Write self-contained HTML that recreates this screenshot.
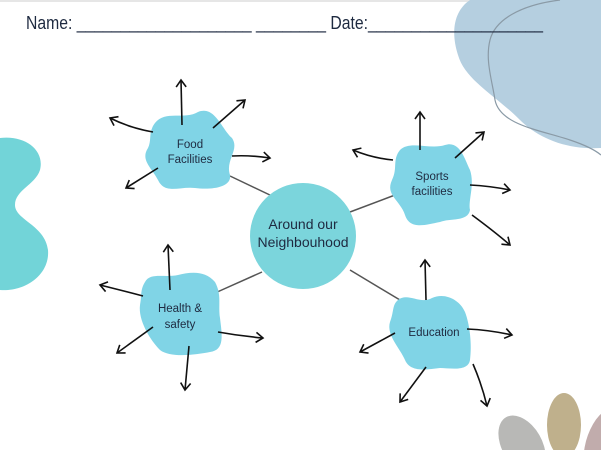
<!DOCTYPE html>
<html><head><style>
html,body{margin:0;padding:0;background:#fff;width:601px;height:450px;overflow:hidden}
svg{display:block}
text{font-family:"Liberation Sans",sans-serif;fill:#1e2a40}
</style></head><body>
<svg width="601" height="450" viewBox="0 0 601 450" xmlns="http://www.w3.org/2000/svg">
<defs>
<marker id="a" markerWidth="12" markerHeight="12" refX="9" refY="6" orient="auto" markerUnits="userSpaceOnUse">
<path d="M2,1 L9,6 L2,11" fill="none" stroke="#111" stroke-width="1.6"/>
</marker>
</defs>
<rect x="0" y="0" width="601" height="2" fill="#e6e6e6"/>
<path d="M470,0 L601,0 L601,148 C570,150 540,140 520,120 C495,95 465,80 458,55 C450,30 455,10 470,0Z" fill="#b5cfe0"/>
<path d="M560,0 C520,5 495,20 490,40 C485,60 492,80 495,100 C500,125 540,130 570,140 C585,145 595,150 601,155" fill="none" stroke="#8a9aa6" stroke-width="1.2"/>
<path d="M0,138 C25,135 45,150 40,170 C35,185 15,190 15,205 C15,220 45,225 48,250 C50,275 25,292 0,290Z" fill="#72d4d8"/>
<ellipse cx="522" cy="445" rx="20" ry="32" transform="rotate(-30 522 445)" fill="#b8b8b6"/>
<ellipse cx="564" cy="425" rx="17" ry="32" fill="#bfb08c"/>
<ellipse cx="601" cy="440" rx="14" ry="32" transform="rotate(20 601 440)" fill="#c1acac"/>
<text x="26" y="29" font-size="18" textLength="517" lengthAdjust="spacingAndGlyphs">Name: ____________________ ________ Date:____________________</text>
<g stroke="#555" stroke-width="1.5">
<line x1="230" y1="176" x2="272" y2="196"/>
<line x1="395" y1="195" x2="350" y2="212"/>
<line x1="215" y1="293" x2="262" y2="272"/>
<line x1="400" y1="300" x2="350" y2="270"/>
</g>
<circle cx="303" cy="236" r="53" fill="#7bd5dc"/>
<text x="303" y="229" font-size="14" text-anchor="middle">Around our</text>
<text x="303" y="247" font-size="14" text-anchor="middle">Neighbouhood</text>
<g fill="#80d4e6">
<path d="M155,123 C165,110 185,120 198,112 C215,105 222,130 232,138 C240,150 225,160 230,175 C232,188 210,190 195,188 C180,186 165,195 158,180 C152,168 140,160 148,148 C152,140 148,132 155,123Z"/>
<path d="M400,150 C410,140 430,150 445,145 C460,140 465,160 470,170 C475,185 468,200 470,210 C468,222 450,218 440,222 C425,225 410,230 405,215 C400,200 385,195 392,180 C398,168 392,160 400,150Z"/>
<path d="M145,282 C150,272 165,278 178,275 C190,272 205,270 215,282 C222,295 218,305 220,318 C222,335 225,350 210,352 C195,355 170,358 160,350 C150,340 138,320 140,305 C142,295 140,290 145,282Z"/>
<path d="M398,300 C408,292 420,305 432,298 C445,292 460,300 465,312 C470,325 472,345 470,360 C468,372 450,368 440,368 C425,370 410,372 405,360 C400,348 386,335 390,322 C394,312 392,305 398,300Z"/>
</g>
<g font-size="11.5" text-anchor="middle">
<text x="190" y="148">Food</text><text x="190" y="163">Facilities</text>
<text x="432" y="180">Sports</text><text x="432" y="195">facilities</text>
<text x="180" y="312">Health &amp;</text><text x="180" y="328">safety</text>
<text x="434" y="336">Education</text>
</g>
<g stroke="#111" stroke-width="1.6" fill="none" marker-end="url(#a)">
<path d="M153,132 Q130,128 110,118"/>
<path d="M182,125 L181,80"/>
<path d="M213,128 L245,100"/>
<path d="M232,156 Q250,155 270,158"/>
<path d="M158,168 L126,188"/>
<path d="M393,160 Q372,158 353,150"/>
<path d="M420,150 L420,112"/>
<path d="M455,158 L484,132"/>
<path d="M470,185 Q490,186 510,190"/>
<path d="M472,215 Q495,232 510,245"/>
<path d="M170,290 L168,245"/>
<path d="M143,296 Q120,290 100,285"/>
<path d="M153,327 L117,353"/>
<path d="M189,346 L185,390"/>
<path d="M218,332 Q240,336 263,338"/>
<path d="M426,300 L425,260"/>
<path d="M395,333 L360,352"/>
<path d="M467,329 Q490,330 512,335"/>
<path d="M426,367 L400,402"/>
<path d="M473,364 Q482,385 487,406"/>
</g>
</svg>
</body></html>
